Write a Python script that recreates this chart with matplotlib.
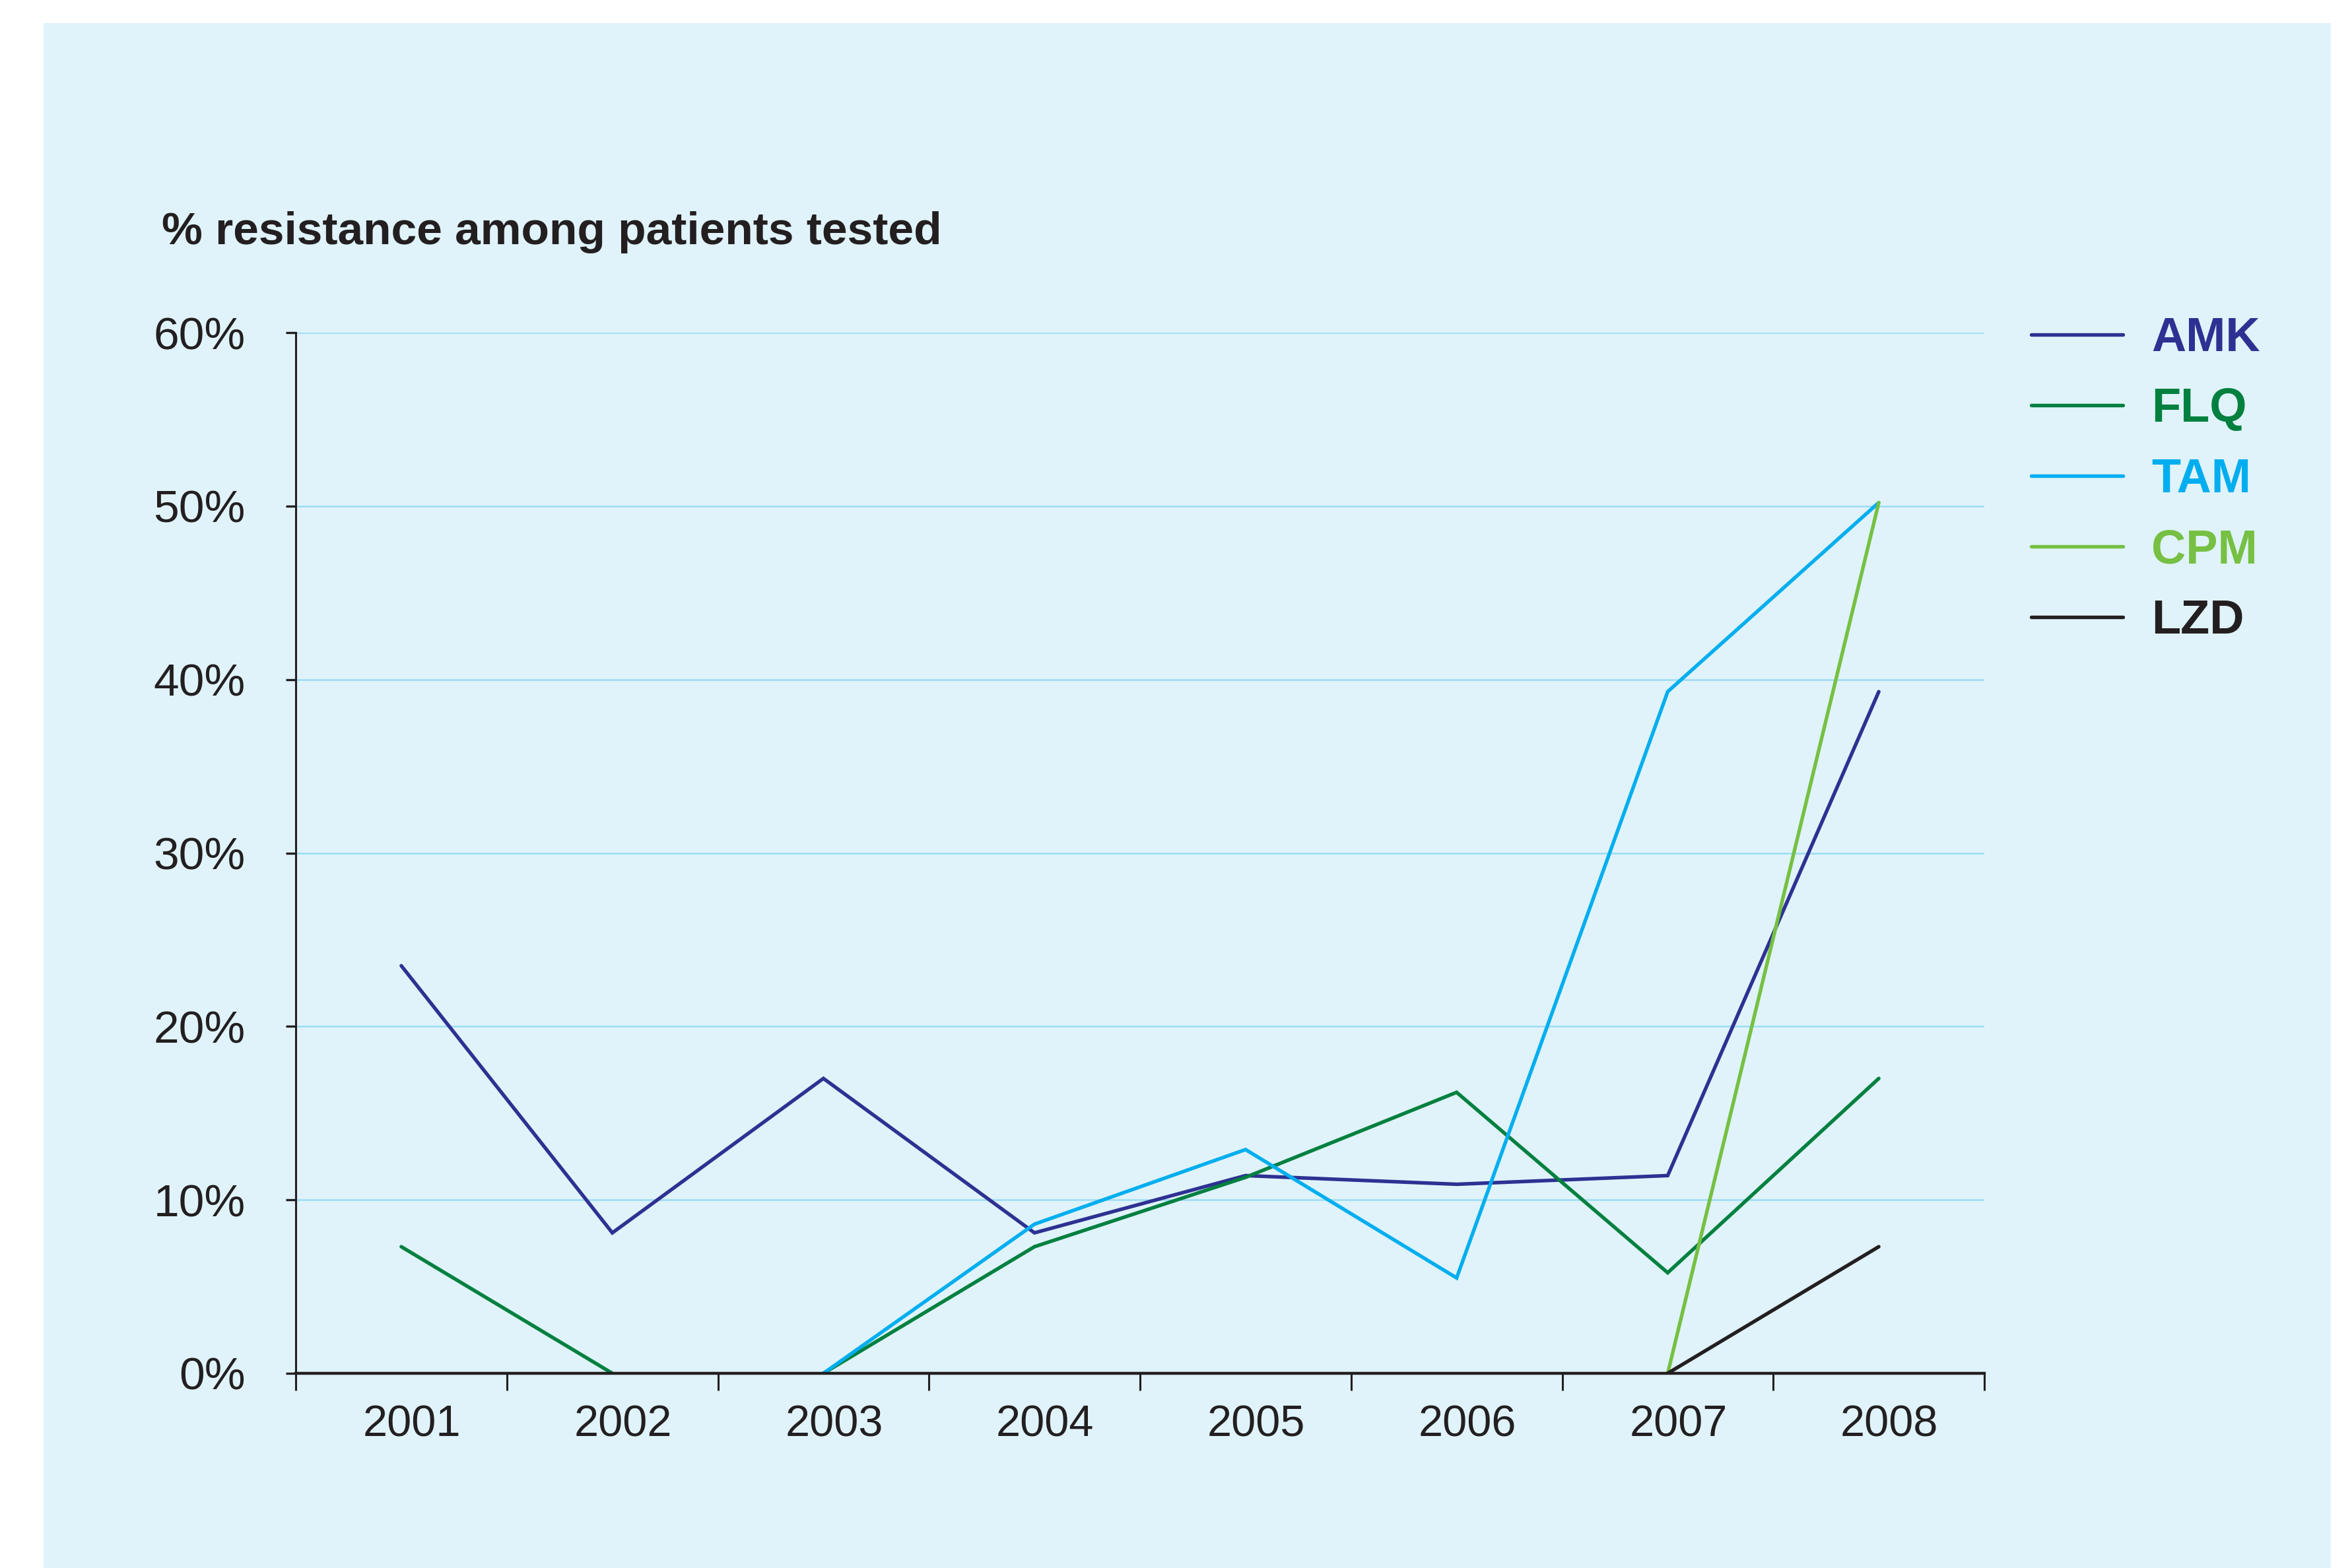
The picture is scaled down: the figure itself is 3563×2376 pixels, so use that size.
import numpy as np
import matplotlib
matplotlib.use("Agg")
import matplotlib.pyplot as plt
from matplotlib.patches import Rectangle
from matplotlib.transforms import ScaledTranslation

plt.rcParams['font.family'] = ['Liberation Sans', 'DejaVu Sans']

years = ['2001', '2002', '2003', '2004', '2005', '2006', '2007', '2008']
amk = [23.5, 8.1, 17.0, 8.1, 11.4, 10.9, 11.4, 39.3]
flq = [7.3, 0.0, 0.0, 7.3, 11.3, 16.2, 5.8, 17.0]
tam = [np.nan, np.nan, 0.0, 8.6, 12.9, 5.5, 39.3, 50.2]
cpm = [np.nan, np.nan, np.nan, np.nan, np.nan, np.nan, 0.0, 50.2]
lzd = [np.nan, np.nan, np.nan, np.nan, np.nan, np.nan, 0.0, 7.3]
yticks = [0, 10, 20, 30, 40, 50, 60]

series = [('AMK', amk, '#2E3192'), ('FLQ', flq, '#00803F'), ('TAM', tam, '#00AEEF'),
          ('CPM', cpm, '#76C043'), ('LZD', lzd, '#231F20')]


def break_zero_runs(vals):
    # the original leaves no line along the axis between two zero points
    xs, ys = [], []
    for i, v in enumerate(vals):
        if i > 0 and v == 0 and vals[i - 1] == 0:
            xs.append(np.nan)
            ys.append(np.nan)
        xs.append(i)
        ys.append(v)
    return xs, ys


fig = plt.figure(figsize=(35.63, 23.76), dpi=100)
fig.patches.append(Rectangle((66/3563, 0), (3531-66)/3563, 1-35/2376,
                             transform=fig.transFigure, facecolor='#E0F3FA',
                             edgecolor='none', zorder=-5))

ax = fig.add_axes([448/3563, 295/2376, (3006-448)/3563, (2081-504)/2376])
ax.set_facecolor('none')

x = np.arange(len(years))
for name, vals, col in series:
    xs, ys = break_zero_runs(vals)
    ax.plot(xs, ys, color=col, lw=3.9, label=name, solid_capstyle='round',
            solid_joinstyle='miter', zorder=3)

ax.set_xlim(-0.5, 7.5)
ax.set_ylim(0, 60)
for v in yticks[1:]:
    ax.axhline(v, color='#9ADCF5', lw=1.8, zorder=1)

for s in ['top', 'right']:
    ax.spines[s].set_visible(False)
ax.spines['left'].set_linewidth(2.2)
ax.spines['bottom'].set_linewidth(3.2)
ax.spines['left'].set_color('#231F20')
ax.spines['bottom'].set_color('#231F20')
ax.spines['bottom'].set_zorder(4)

ax.set_yticks(yticks)
ax.set_yticklabels([f'{v}%' for v in yticks])
ax.tick_params(axis='y', length=11, width=2.4, pad=44, labelsize=50,
               color='#231F20', labelcolor='#231F20')
ax.set_xticks(np.arange(-0.5, 8, 1))
ax.set_xticklabels([])
ax.tick_params(axis='x', which='major', length=19, width=2.2, color='#231F20')
ax.set_xticks(x, minor=True)
ax.set_xticklabels(years, minor=True)
ax.tick_params(axis='x', which='minor', length=0, pad=34, labelsize=48,
               labelcolor='#231F20')
shift = ScaledTranslation(0.16, 0, fig.dpi_scale_trans)
for lab in ax.get_xticklabels(minor=True):
    lab.set_transform(lab.get_transform() + shift)

fig.text(245/3563, 1-352/2376, '% resistance among patients tested',
         fontsize=50, fontweight='bold', color='#231F20', va='center', ha='left')

leg = ax.legend(loc='upper left', bbox_to_anchor=(3012/3563, 1-414/2376),
                bbox_transform=fig.transFigure, frameon=False,
                prop={'size': 52, 'weight': 'bold'}, labelcolor='linecolor',
                handlelength=1.92, handletextpad=0.6, labelspacing=0.54)

fig.savefig('out.png', dpi=100, facecolor='white')
